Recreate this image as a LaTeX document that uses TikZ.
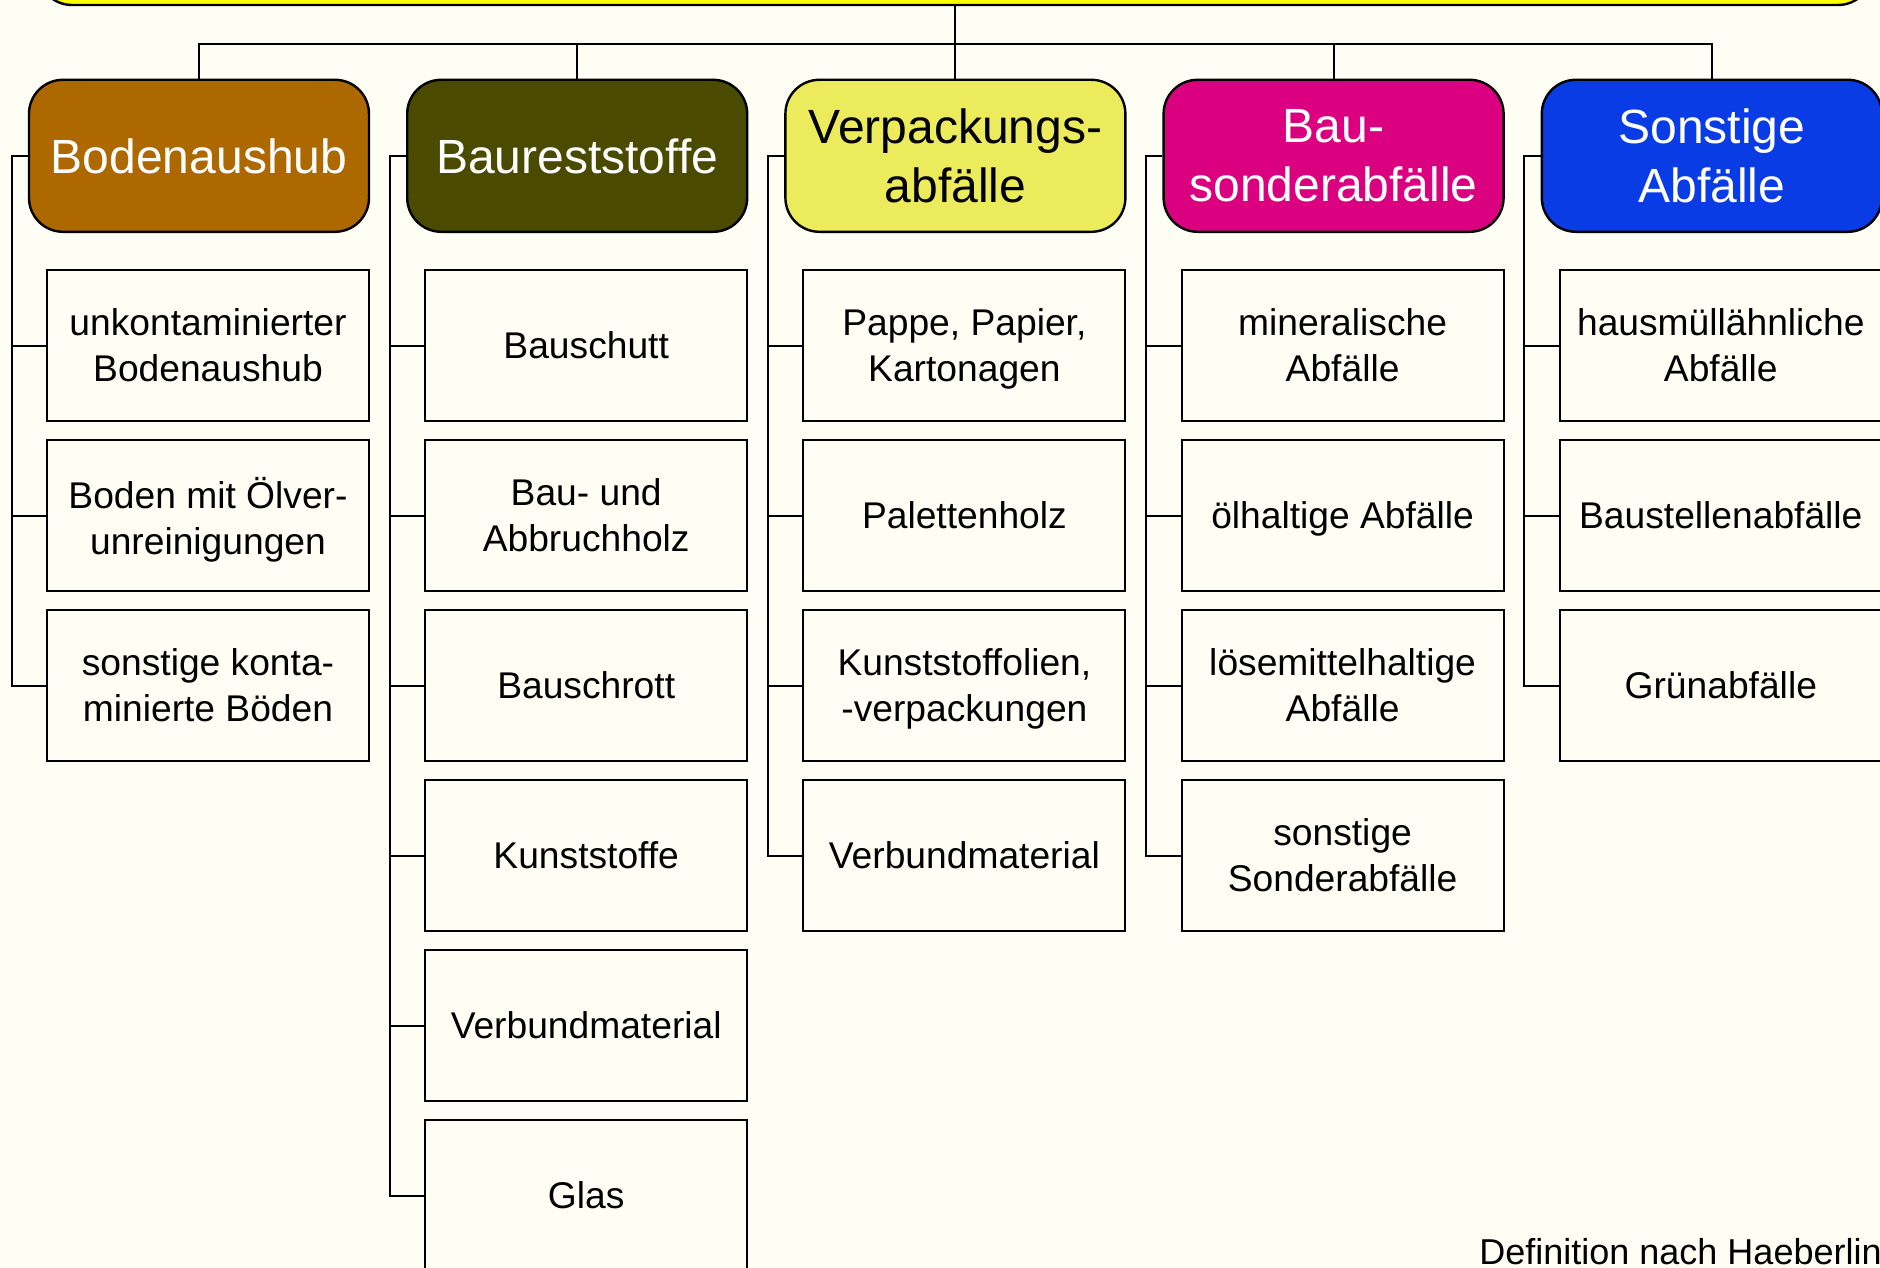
\documentclass[tikz,border=0pt]{standalone}
\usepackage{fontspec}
\setmainfont{Liberation Sans}
\usepackage{xcolor}
\usepackage{tikz}
\definecolor{Page}{HTML}{FEFEF5}
\definecolor{Root}{HTML}{FFFF00}
\definecolor{Boden}{HTML}{AD6800}
\definecolor{Rest}{HTML}{4B4B00}
\definecolor{Verp}{HTML}{EBEB5C}
\definecolor{Sonder}{HTML}{DB007F}
\definecolor{Sonst}{HTML}{0A3CE6}

\begin{document}
\begin{tikzpicture}[x=0.5pt,y=-0.5pt,
    head/.style={draw=black,line width=1.2pt,rounded corners=17pt,
      minimum width=170pt,minimum height=76pt,inner sep=0pt,
      text depth=-1.8pt,align=center,font=\fontsize{24}{29.5}\selectfont},
    item/.style={draw=black,line width=1pt,minimum width=161pt,
      minimum height=75.5pt,inner sep=0pt,text depth=0pt,align=center,
      font=\fontsize{18.6}{23}\selectfont},
    link/.style={line width=1pt}]
  \fill[Page] (0,0) rectangle (1880,1268);
  \useasboundingbox (0,0) rectangle (1880,1268);
  \clip (0,0) rectangle (1880,1268);
  % top box, only its lower edge is in the picture
  \node[draw=black,line width=1.2pt,fill=Root,rounded corners=17pt,
    minimum width=917pt,minimum height=105pt] (root) at (955,-100) {};
  \foreach \i/\col/\txt/\ink in {
    1/Boden/Bodenaushub/white,
    2/Rest/Baureststoffe/white,
    3/Verp/{Verpackungs-\\abfälle}/black,
    4/Sonder/{Bau-\\sonderabfälle}/white,
    5/Sonst/{Sonstige\\Abfälle}/white} {
    \node[head,fill=\col,text=\ink] (h\i) at ({199+378.2*(\i-1)},155.8) {\txt};
    \coordinate (v\i) at ({11.5+378.2*(\i-1)},155.8);
  }
  \coordinate (bus) at (955,44);
  \draw[link] (root.south) -- (root.south |- bus);
  \draw[link] (h1.north) |- (bus) -| (h5.north);
  \foreach \i in {2,3,4}
    \draw[link] (h\i.north) -- (h\i.north |- bus);
  % Bodenaushub
  \foreach \j/\lab in {
    1/{unkontaminierter\\Bodenaushub},
    2/{Boden mit Ölver-\\unreinigungen},
    3/{sonstige konta-\\minierte Böden}}
    \node[item] (c1-\j) at (208,{345.5+170*(\j-1)}) {\lab};
  % Baureststoffe
  \foreach \j/\lab in {
    1/Bauschutt,
    2/{Bau- und\\Abbruchholz},
    3/Bauschrott,
    4/Kunststoffe,
    5/Verbundmaterial,
    6/Glas}
    \node[item] (c2-\j) at (586.2,{345.5+170*(\j-1)}) {\lab};
  % Verpackungsabfaelle
  \foreach \j/\lab in {
    1/{Pappe, Papier,\\Kartonagen},
    2/Palettenholz,
    3/{Kunststoffolien,\\-verpackungen},
    4/Verbundmaterial}
    \node[item] (c3-\j) at (964.4,{345.5+170*(\j-1)}) {\lab};
  % Bausonderabfaelle
  \foreach \j/\lab in {
    1/{mineralische\\Abfälle},
    2/{ölhaltige Abfälle},
    3/{lösemittelhaltige\\Abfälle},
    4/{sonstige\\Sonderabfälle}}
    \node[item] (c4-\j) at (1342.6,{345.5+170*(\j-1)}) {\lab};
  % Sonstige
  \foreach \j/\lab in {
    1/{hausmüllähnliche\\Abfälle},
    2/Baustellenabfälle,
    3/Grünabfälle}
    \node[item] (c5-\j) at (1720.8,{345.5+170*(\j-1)}) {\lab};
  % brackets
  \foreach \i/\n in {1/3,2/6,3/4,4/4,5/3} {
    \draw[link] (h\i.west) -- (v\i) |- (c\i-\n.west);
    \foreach \j in {1,...,\n}
      \draw[link] (c\i-\j.west) -- (c\i-\j.west -| v\i);
  }
  \node[font=\fontsize{18}{22}\selectfont,inner sep=0pt,anchor=base west] (src)
    at (1479,1264) {Definition nach Haeberlin};
\end{tikzpicture}
\end{document}
